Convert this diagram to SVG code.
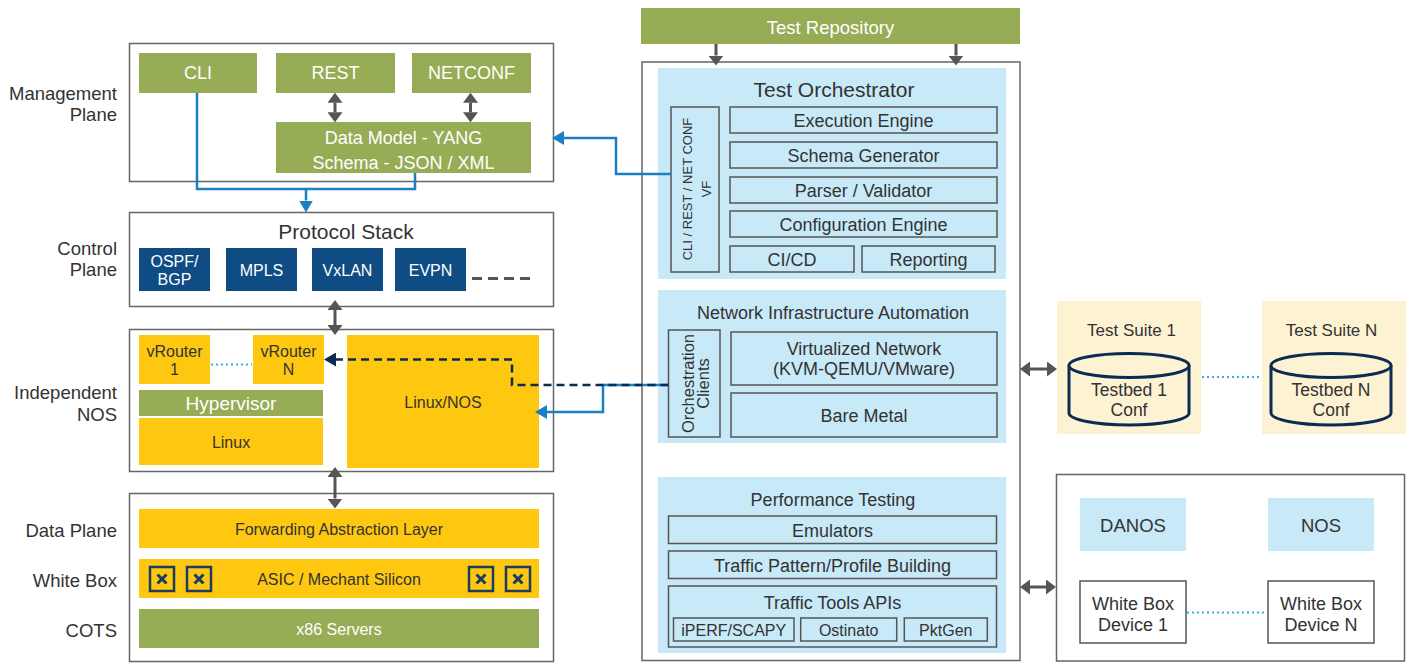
<svg xmlns="http://www.w3.org/2000/svg" width="1411" height="663" viewBox="0 0 1411 663">
<style>
text{font-family:"Liberation Sans",Arial,sans-serif;fill:#333;text-anchor:middle;dominant-baseline:central;font-size:18px}
.side{text-anchor:end;font-size:18.5px}
.w{fill:#fff}
.s16{font-size:16px}
.s17{font-size:17px}
.frame{fill:#fff;stroke:#666;stroke-width:1.5}
.green{fill:#96ac55}
.navy{fill:#104c84}
.yellow{fill:#fdc80f}
.sky{fill:#c8e9f8}
.cell{fill:#c8e9f8;stroke:#555;stroke-width:1.5}
.plain{fill:none;stroke:#555;stroke-width:1.5}
.wbox{fill:#fff;stroke:#555;stroke-width:1.5}
.cream{fill:#fdf2d2}
.cyl{fill:#fdf2d2;stroke:#0d2b52;stroke-width:3}
.xbox{fill:none;stroke:#1d3a63;stroke-width:2.5}
.xmark{stroke:#1d3a63;stroke-width:3}
.garrow{stroke:#555;stroke-width:3;fill:none;marker-start:url(#gh);marker-end:url(#gh)}
.gdown{stroke:#555;stroke-width:3;fill:none;marker-end:url(#gh)}
.blue{stroke:#1a7fc3;stroke-width:2.5;fill:none}
.navyd{stroke:#0d2b52;stroke-width:2.5;fill:none;stroke-dasharray:8 5}
.dot{stroke:#2ab0e6;stroke-width:2;stroke-dasharray:2 3;fill:none}
</style>
<defs>
<marker id="gh" viewBox="0 0 10 15" refX="0" refY="7.5" markerWidth="10" markerHeight="15" markerUnits="userSpaceOnUse" orient="auto-start-reverse"><path d="M0,0 L10,7.5 L0,15 z" fill="#555"/></marker>
<marker id="bh" viewBox="0 0 12 14" refX="0" refY="7" markerWidth="12" markerHeight="14" markerUnits="userSpaceOnUse" orient="auto"><path d="M0,0 L12,7 L0,14 z" fill="#1a7fc3"/></marker>
<marker id="nh" viewBox="0 0 12 14" refX="0" refY="7" markerWidth="12" markerHeight="14" markerUnits="userSpaceOnUse" orient="auto"><path d="M0,0 L12,7 L0,14 z" fill="#0d2b52"/></marker>
</defs>

<!-- Management plane -->
<g id="management-plane">
<text class="side" x="117" y="93">Management</text>
<text class="side" x="117" y="114">Plane</text>
<rect class="frame" x="129.5" y="43.5" width="424" height="138"/>
<rect class="green" x="139" y="53" width="118" height="40"/>
<text class="w" x="198" y="73">CLI</text>
<rect class="green" x="276" y="53" width="119" height="40"/>
<text class="w" x="335.5" y="73">REST</text>
<rect class="green" x="412" y="53" width="119" height="40"/>
<text class="w" x="471.5" y="73">NETCONF</text>
<rect class="green" x="276" y="122" width="255" height="51"/>
<text class="w" x="403.5" y="137.5">Data Model - YANG</text>
<text class="w" x="403.5" y="162.5">Schema - JSON / XML</text>
</g>

<!-- Control plane -->
<g id="control-plane">
<text class="side" x="117" y="248">Control</text>
<text class="side" x="117" y="269">Plane</text>
<rect class="frame" x="129.5" y="212.5" width="424" height="94"/>
<text x="346" y="231" style="font-size:21px">Protocol Stack</text>
<rect class="navy" x="139" y="248" width="71" height="43"/>
<text class="w s16" x="174.5" y="261">OSPF/</text>
<text class="w s16" x="174.5" y="279.5">BGP</text>
<rect class="navy" x="226" y="248" width="71" height="43"/>
<text class="w s16" x="261.5" y="270.5">MPLS</text>
<rect class="navy" x="312" y="248" width="71" height="43"/>
<text class="w s16" x="347.5" y="270.5">VxLAN</text>
<rect class="navy" x="395" y="248" width="71" height="43"/>
<text class="w s16" x="430.5" y="270.5">EVPN</text>
<line x1="472" y1="278.5" x2="532" y2="278.5" stroke="#555" stroke-width="3" stroke-dasharray="10 6"/>
</g>

<!-- Independent NOS -->
<g id="independent-nos">
<text class="side" x="117" y="392">Independent</text>
<text class="side" x="117" y="414">NOS</text>
<rect class="frame" x="129.5" y="329.5" width="424" height="142"/>
<rect class="yellow" x="139" y="335" width="71" height="49"/>
<text class="s16" x="174.5" y="351">vRouter</text>
<text class="s16" x="174.5" y="369.5">1</text>
<rect class="yellow" x="253" y="335" width="71" height="49"/>
<text class="s16" x="288.5" y="351">vRouter</text>
<text class="s16" x="288.5" y="369.5">N</text>
<line class="dot" x1="211" y1="364.5" x2="252" y2="364.5"/>
<rect class="green" x="139" y="390" width="184" height="26"/>
<text class="w" x="231" y="403.5" style="font-size:19px">Hypervisor</text>
<rect class="yellow" x="139" y="418" width="184" height="47"/>
<text class="s16" x="231" y="442.5">Linux</text>
<rect class="yellow" x="347" y="335" width="192" height="133"/>
<text class="s16" x="443" y="402.5">Linux/NOS</text>
</g>

<!-- Data plane / white box / COTS -->
<g id="hardware">
<text class="side" x="117" y="530.5">Data Plane</text>
<text class="side" x="117" y="580">White Box</text>
<text class="side" x="117" y="630">COTS</text>
<rect class="frame" x="129.5" y="493.5" width="424" height="168"/>
<rect class="yellow" x="139" y="509" width="400" height="39"/>
<text class="s16" x="339" y="529">Forwarding Abstraction Layer</text>
<rect class="yellow" x="139" y="559" width="400" height="39"/>
<text class="s16" x="339" y="579">ASIC / Mechant Silicon</text>
<g id="chips">
<rect class="xbox" x="150" y="567" width="24" height="24"/>
<path class="xmark" d="M157.5,574.5 L166.5,583.5 M166.5,574.5 L157.5,583.5"/>
<rect class="xbox" x="187" y="567" width="24" height="24"/>
<path class="xmark" d="M194.5,574.5 L203.5,583.5 M203.5,574.5 L194.5,583.5"/>
<rect class="xbox" x="469" y="567" width="24" height="24"/>
<path class="xmark" d="M476.5,574.5 L485.5,583.5 M485.5,574.5 L476.5,583.5"/>
<rect class="xbox" x="506" y="567" width="24" height="24"/>
<path class="xmark" d="M513.5,574.5 L522.5,583.5 M522.5,574.5 L513.5,583.5"/>
</g>
<rect class="green" x="139" y="609" width="400" height="39"/>
<text class="w s16" x="339" y="629.5">x86 Servers</text>
</g>

<!-- Test repository -->
<g id="test-repository">
<rect class="green" x="641" y="8" width="379" height="36"/>
<text class="w" x="830.5" y="27.5" style="font-size:18.5px">Test Repository</text>
</g>

<!-- Test framework container -->
<g id="test-framework">
<rect class="frame" x="642" y="62" width="378" height="598.5"/>

<g id="test-orchestrator">
<rect class="sky" x="658" y="68" width="348" height="211"/>
<text x="834" y="89.5" style="font-size:21px">Test Orchestrator</text>
<rect class="plain" x="671" y="107" width="48" height="165"/>
<text transform="translate(687,189) rotate(-90)" style="font-size:13px">CLI / REST / NET CONF</text>
<text transform="translate(706,189) rotate(-90)" style="font-size:13px">VF</text>
<rect class="cell" x="730" y="107" width="267" height="26"/>
<text x="863.5" y="120.5">Execution Engine</text>
<rect class="cell" x="730" y="142" width="267" height="26"/>
<text x="863.5" y="155.5">Schema Generator</text>
<rect class="cell" x="730" y="177" width="267" height="26"/>
<text x="863.5" y="190.5">Parser / Validator</text>
<rect class="cell" x="730" y="211" width="267" height="26"/>
<text x="863.5" y="224.5">Configuration Engine</text>
<rect class="cell" x="730" y="246" width="124" height="26"/>
<text x="792" y="259.5">CI/CD</text>
<rect class="cell" x="862" y="246" width="133" height="26"/>
<text x="928.5" y="259.5">Reporting</text>
</g>

<g id="network-infrastructure-automation">
<rect class="sky" x="658" y="290" width="348" height="153"/>
<text x="833" y="313">Network Infrastructure Automation</text>
<rect class="plain" x="668.5" y="330" width="51.5" height="107"/>
<text transform="translate(688,383.5) rotate(-90)" style="font-size:16.5px">Orchestration</text>
<text transform="translate(703,383.5) rotate(-90)" style="font-size:16.5px">Clients</text>
<rect class="cell" x="731" y="332" width="266" height="53"/>
<text x="864" y="348.5">Virtualized Network</text>
<text x="864" y="369">(KVM-QEMU/VMware)</text>
<rect class="cell" x="731" y="393" width="266" height="44"/>
<text x="864" y="415.5">Bare Metal</text>
</g>

<g id="performance-testing">
<rect class="sky" x="658" y="477" width="348" height="176"/>
<text x="833" y="499.5">Performance Testing</text>
<rect class="cell" x="668.5" y="516" width="328" height="27.5"/>
<text x="832.5" y="530.5">Emulators</text>
<rect class="cell" x="668.5" y="551" width="328" height="27.5"/>
<text x="832.5" y="565.5">Traffic Pattern/Profile Building</text>
<rect class="cell" x="668.5" y="586" width="328" height="61"/>
<text x="832.5" y="602.5">Traffic Tools APIs</text>
<rect class="plain" x="673.5" y="618" width="120.5" height="23"/>
<text class="s16" x="733.7" y="630">iPERF/SCAPY</text>
<rect class="plain" x="800.7" y="618" width="96" height="23"/>
<text class="s16" x="848.7" y="630">Ostinato</text>
<rect class="plain" x="904.3" y="618" width="83" height="23"/>
<text class="s16" x="945.8" y="630">PktGen</text>
</g>
</g>

<!-- Test suites -->
<g id="test-suite-1">
<rect class="cream" x="1057" y="301" width="144" height="133"/>
<text class="s17" x="1131.5" y="330">Test Suite 1</text>
<path class="cyl" d="M1069,365.5 V413 A60,12 0 0 0 1189,413 V365.5"/>
<ellipse class="cyl" cx="1129" cy="365.5" rx="60" ry="12"/>
<text x="1129" y="389.5" style="font-size:17.5px">Testbed 1</text>
<text x="1129" y="410" style="font-size:17.5px">Conf</text>
</g>
<g id="test-suite-n">
<rect class="cream" x="1262" y="301" width="144" height="133"/>
<text class="s17" x="1331.5" y="330">Test Suite N</text>
<path class="cyl" d="M1271,365.5 V413 A60,12 0 0 0 1391,413 V365.5"/>
<ellipse class="cyl" cx="1331" cy="365.5" rx="60" ry="12"/>
<text x="1331" y="389.5" style="font-size:17.5px">Testbed N</text>
<text x="1331" y="410" style="font-size:17.5px">Conf</text>
</g>

<!-- Devices under test -->
<g id="devices">
<rect class="frame" x="1056.5" y="474.5" width="348" height="186.5"/>
<rect class="sky" x="1080" y="498" width="106" height="53"/>
<text x="1133" y="525" style="font-size:18.5px">DANOS</text>
<rect class="sky" x="1268" y="498" width="106" height="53"/>
<text x="1321" y="525" style="font-size:18.5px">NOS</text>
<rect class="wbox" x="1080" y="581" width="106" height="62"/>
<text x="1133" y="603.5">White Box</text>
<text x="1133" y="624.5">Device 1</text>
<rect class="wbox" x="1268" y="581" width="106" height="62"/>
<text x="1321" y="603.5">White Box</text>
<text x="1321" y="624.5">Device N</text>
</g>

<!-- Connectors -->
<g id="connectors">
<line class="garrow" x1="335" y1="102.7" x2="335" y2="112.3"/>
<line class="garrow" x1="470.5" y1="102.7" x2="470.5" y2="112.3"/>
<line class="garrow" x1="335" y1="310" x2="335" y2="325"/>
<line class="garrow" x1="335" y1="477" x2="335" y2="498.5"/>
<line class="gdown" x1="716" y1="44" x2="716" y2="55.5"/>
<line class="gdown" x1="956" y1="44" x2="956" y2="55.5"/>
<line class="garrow" x1="1030" y1="369" x2="1047" y2="369"/>
<line class="garrow" x1="1030" y1="587" x2="1046" y2="587"/>
<path class="blue" d="M197,93 V189 H415 V173"/>
<line class="blue" x1="306" y1="189" x2="306" y2="200.5" marker-end="url(#bh)"/>
<path class="blue" d="M671,174 H616 V138 H564" marker-end="url(#bh)"/>
<path class="blue" d="M668.5,385 H603 V412 H547" marker-end="url(#bh)"/>
<path class="navyd" d="M668.5,385 H512 V359.5 H336" marker-end="url(#nh)"/>
<line class="dot" x1="1202" y1="377" x2="1261" y2="377"/>
<line class="dot" x1="1187" y1="612.5" x2="1267" y2="612.5"/>
</g>
</svg>
